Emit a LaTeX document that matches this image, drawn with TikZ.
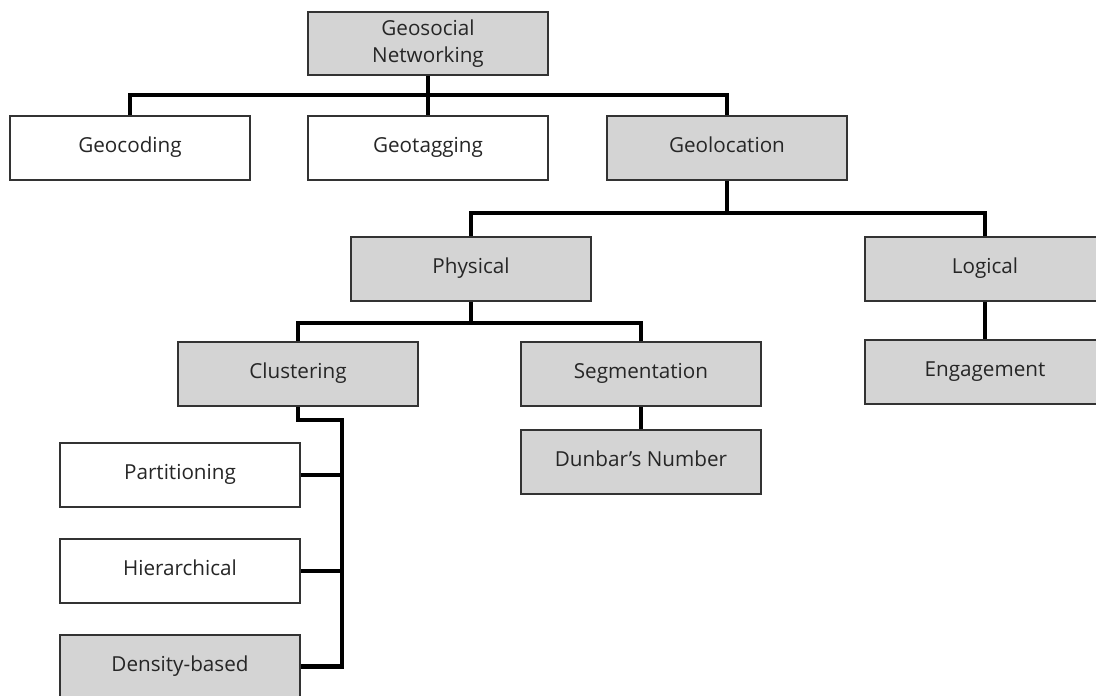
\documentclass[tikz,border=0pt]{standalone}
\usepackage{fontspec}
\setmainfont{Open Sans}
\usetikzlibrary{positioning}
\definecolor{boxgray}{HTML}{D4D4D4}
\definecolor{boxline}{HTML}{333333}
\definecolor{textgray}{HTML}{262626}
\tikzset{
topbox/.style={rectangle, draw=boxline, line width=1.4pt, fill=boxgray, text=textgray, text centered, minimum width=180pt, minimum height=48pt, inner sep=0pt, font=\fontsize{15.5}{20}\selectfont},
graybox/.style={topbox, text height=0.72em, text depth=0pt},
whitebox/.style={graybox, fill=white},
line/.style={draw, line width=3.4pt}
}
\begin{document}
\begin{tikzpicture}[x=0.75pt, y=-0.75pt]
    \clip (0,0) rectangle (1096,696);
    % Place nodes
    \node [topbox, align=center, minimum height=47pt] (geosocial) at (428,43.5) {Geosocial\\Networking};
    \node [whitebox] (geocoding) at (130,148) {Geocoding};
    \node [whitebox] (geotagging) at (428,148) {Geotagging};
    \node [graybox] (geolocation) at (727,148) {Geolocation};
    \node [graybox] (physical) at (471,269) {Physical};
    \node [graybox] (logical) at (985,269) {Logical};
    \node [graybox] (clustering) at (298,374) {Clustering};
    \node [graybox] (segmentation) at (641,374) {Segmentation};
    \node [graybox] (engagement) at (985,372) {Engagement};
    \node [graybox, below=16.5pt of segmentation] (dunbar) {Dunbar’s Number};
    \node [whitebox] (partitioning) at (180,475) {Partitioning};
    \node [whitebox, below=22.5pt of partitioning] (hierarchical) {Hierarchical};
    \node [graybox, below=22.5pt of hierarchical] (density) {Density-based};
    % Bus points
    \coordinate (topbus) at (428,95);
    \coordinate (geobus) at (727,213);
    \coordinate (physbus) at (471,323);
    \coordinate (clusterbus) at (342,420);
    % Draw edges
    \path [line] (geocoding) |- (topbus) -| (geolocation);
    \path [line] (geosocial) -- (geotagging);
    \path [line] (physical) |- (geobus) -| (logical);
    \path [line] (geolocation) -- (geobus);
    \path [line] (clustering) |- (physbus) -| (segmentation);
    \path [line] (physical) -- (physbus);
    \path [line] (logical) -- (engagement);
    \path [line] (segmentation) -- (dunbar);
    \path [line] (clustering) |- (clusterbus) -- (clusterbus |- density) -- (density);
    \path [line] (partitioning) -- (partitioning -| clusterbus);
    \path [line] (hierarchical) -- (hierarchical -| clusterbus);
\end{tikzpicture}
\end{document}
